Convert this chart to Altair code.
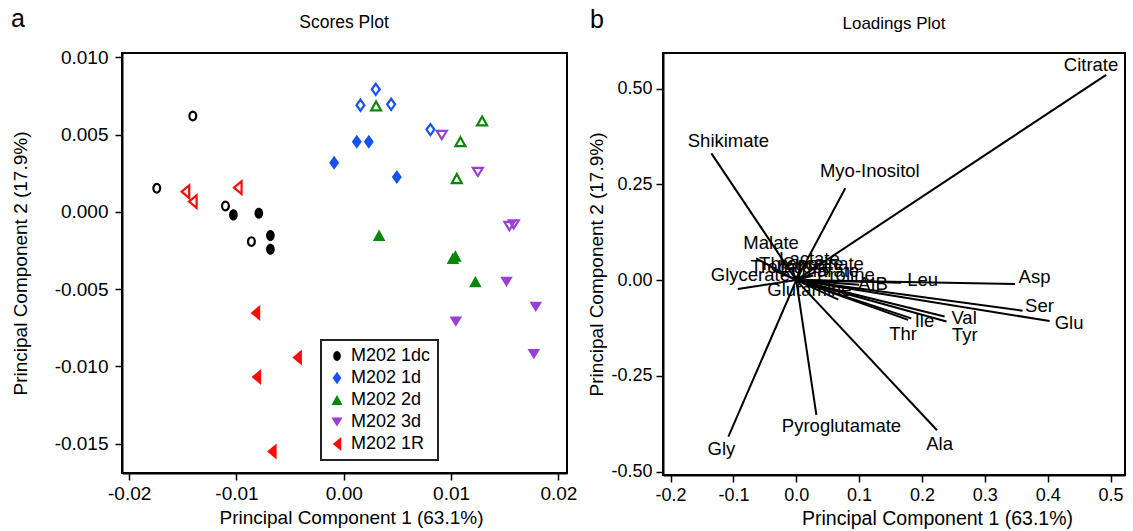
import altair as alt
import pandas as pd

FONT = "Liberation Sans"
MINUS_FIX = "replace(format(datum.value, '{f}'), '\u2212', '-')"

# ---- scores (PC1, PC2) per group; filled = samples, open = paired controls ----
groups = ["M202 1dc", "M202 1d", "M202 2d", "M202 3d", "M202 1R"]
group_colors = ["#000000", "#1652f0", "#0b860b", "#9a3fd5", "#ff0a0a"]

dc_filled_pc1 = [-0.01029, -0.00792, -0.00684, -0.00684]
dc_filled_pc2 = [-0.00019, -0.00008, -0.00153, -0.00241]
dc_open_pc1 = [-0.01407, -0.01743, -0.01103, -0.00861]
dc_open_pc2 = [0.00621, 0.00153, 0.00039, -0.00192]

d1_filled_pc1 = [0.00121, 0.00233, -0.00090, 0.00494]
d1_filled_pc2 = [0.00455, 0.00455, 0.00319, 0.00227]
d1_open_pc1 = [0.00298, 0.00155, 0.00441, 0.00807]
d1_open_pc2 = [0.00794, 0.00691, 0.00697, 0.00533]

d2_filled_pc1 = [0.00329, 0.01017, 0.01040, 0.01226]
d2_filled_pc2 = [-0.00151, -0.00300, -0.00285, -0.00451]
d2_open_pc1 = [0.00301, 0.01289, 0.01087, 0.01053]
d2_open_pc2 = [0.00686, 0.00589, 0.00455, 0.00216]

d3_filled_pc1 = [0.01516, 0.01789, 0.01044, 0.01771]
d3_filled_pc2 = [-0.00453, -0.00615, -0.00710, -0.00921]
d3_open_pc1 = [0.00913, 0.01249, 0.01543, 0.01584]
d3_open_pc2 = [0.00498, 0.00259, -0.00091, -0.00080]

r1_filled_pc1 = [-0.00824, -0.00435, -0.00815, -0.00671]
r1_filled_pc2 = [-0.00654, -0.00943, -0.01068, -0.01551]
r1_open_pc1 = [-0.01476, -0.01407, -0.00988]
r1_open_pc2 = [0.00131, 0.00067, 0.00157]

score_x_ticks = [-0.02, -0.01, 0.0, 0.01, 0.02]
score_y_ticks = [0.010, 0.005, 0.0, -0.005, -0.010, -0.015]

# ---- loadings ----
loading_names = ["Citrate", "Shikimate", "Myo-Inositol", "Malate", "Lactate",
                 "Threonate", "Trehalose", "Succinate", "Fumarate", "Glycerate",
                 "Proline", "AIB", "Glutamine", "Leu", "Asp", "Ser", "Glu",
                 "Val", "Tyr", "Ile", "Thr", "Ala", "Pyroglutamate", "Gly"]
loading_pc1 = [0.493, -0.135, 0.078, -0.064, 0.008, -0.008, -0.037, 0.032, 0.027,
               -0.093, 0.064, 0.100, 0.067, 0.167, 0.348, 0.360, 0.403, 0.236,
               0.239, 0.183, 0.178, 0.224, 0.032, -0.108]
loading_pc2 = [0.536, 0.331, 0.240, 0.057, 0.043, 0.033, 0.027, 0.022, 0.012,
               -0.023, -0.004, -0.012, -0.051, -0.007, -0.010, -0.080, -0.107,
               -0.095, -0.108, -0.100, -0.104, -0.392, -0.352, -0.409]
label_pc1 = [0.469, -0.108, 0.117, -0.040, 0.021, 0.008, -0.008, 0.043, 0.037,
             -0.073, 0.079, 0.122, 0.021, 0.201, 0.379, 0.387, 0.434, 0.267,
             0.268, 0.204, 0.170, 0.228, 0.072, -0.119]
label_pc2 = [0.561, 0.362, 0.284, 0.096, 0.056, 0.043, 0.033, 0.041, 0.025,
             0.012, 0.014, -0.009, -0.025, 0.000, 0.009, -0.067, -0.113,
             -0.100, -0.143, -0.108, -0.142, -0.429, -0.380, -0.440]

loading_x_ticks = [-0.2, -0.1, 0.0, 0.1, 0.2, 0.3, 0.4, 0.5]
loading_y_ticks = [0.50, 0.25, 0.0, -0.25, -0.50]

# marker outlines, drawn on a size-256 grid (units of 8 px)
shape_paths = [
    "M0,-0.69A0.54,0.69 0 1,1 0,0.69A0.54,0.69 0 1,1 0,-0.69Z",
    "M0,-0.875L0.625,0L0,0.875L-0.625,0Z",
    "M0,-0.71L0.79,0.71L-0.79,0.71Z",
    "M-0.79,-0.64L0.79,-0.64L0,0.64Z",
    "M-0.6,0L0.6,-1L0.6,1Z",
]

rows = []
series = [
    (dc_filled_pc1, dc_filled_pc2, dc_open_pc1, dc_open_pc2),
    (d1_filled_pc1, d1_filled_pc2, d1_open_pc1, d1_open_pc2),
    (d2_filled_pc1, d2_filled_pc2, d2_open_pc1, d2_open_pc2),
    (d3_filled_pc1, d3_filled_pc2, d3_open_pc1, d3_open_pc2),
    (r1_filled_pc1, r1_filled_pc2, r1_open_pc1, r1_open_pc2),
]
for g, (fx, fy, ox, oy) in zip(groups, series):
    for a, b in zip(fx, fy):
        rows.append({"group": g, "pc1": a, "pc2": b, "kind": "filled"})
    for a, b in zip(ox, oy):
        rows.append({"group": g, "pc1": a, "pc2": b, "kind": "open"})
scores = pd.DataFrame(rows)

loadings = pd.DataFrame({
    "name": loading_names, "pc1": loading_pc1, "pc2": loading_pc2,
    "lx": label_pc1, "ly": label_pc2,
})

color_scale = alt.Scale(domain=groups, range=group_colors)
shape_scale = alt.Scale(domain=groups, range=shape_paths)


def axis(values, fmt, title, label_size, title_size, label_pad, title_pad, **extra):
    return alt.Axis(values=values, labelExpr=MINUS_FIX.format(f=fmt), title=title,
                    grid=False, domainColor="black", domainWidth=2,
                    tickColor="black", tickWidth=1.5, tickSize=7,
                    labelFont=FONT, labelFontSize=label_size, labelColor="black",
                    labelPadding=label_pad, titleFont=FONT, titleFontSize=title_size,
                    titleFontWeight="normal", titleColor="black",
                    titlePadding=title_pad, **extra)


def panel_text(text, size, dx, dy):
    # panel letter / heading placed relative to the plot area's top-left corner
    return alt.Chart(pd.DataFrame({"t": [text]})).mark_text(
        font=FONT, fontSize=size, align="center", baseline="middle", color="black"
    ).encode(text="t:N", x=alt.value(dx), y=alt.value(dy))


# ---------------- scores panel ----------------
s_xscale = alt.Scale(domain=[-0.02067, 0.0208], nice=False, zero=False)
s_yscale = alt.Scale(domain=[-0.0169, 0.01029], nice=False, zero=False)
s_xaxis = axis(score_x_ticks, ".2f", "Principal Component 1 (63.1%)", 19, 19, 4, 5,
               titleX=229)
s_yaxis = axis(score_y_ticks, ".3f", "Principal Component 2 (17.9%)", 19, 19, 7, 24)
sx = alt.X("pc1:Q", scale=s_xscale, axis=s_xaxis)
sy = alt.Y("pc2:Q", scale=s_yscale, axis=s_yaxis)

filled_pts = alt.Chart(scores).transform_filter("datum.kind == 'filled'").mark_point(
    filled=True, size=256, opacity=1, strokeWidth=0
).encode(
    x=sx, y=sy,
    color=alt.Color("group:N", scale=color_scale, legend=alt.Legend(title=None)),
    shape=alt.Shape("group:N", scale=shape_scale, legend=alt.Legend(title=None)),
)
open_pts = alt.Chart(scores).transform_filter("datum.kind == 'open'").mark_point(
    filled=False, size=160, opacity=1, strokeWidth=2.2
).encode(
    x=sx, y=sy,
    color=alt.Color("group:N", scale=color_scale, legend=None),
    shape=alt.Shape("group:N", scale=shape_scale, legend=None),
)

scores_panel = alt.layer(
    filled_pts, open_pts,
    panel_text("a", 25, -104, -34),
    panel_text("Scores Plot", 17.5, 222, -30),
).resolve_legend(color="independent", shape="independent").properties(
    width=445, height=420,
)

# ---------------- loadings panel ----------------
l_xscale = alt.Scale(domain=[-0.212, 0.523], nice=False, zero=False)
l_yscale = alt.Scale(domain=[-0.509, 0.593], nice=False, zero=False)
l_xaxis = axis(loading_x_ticks, ".1f", "Principal Component 1 (63.1%)", 18, 19.5, 4, 5,
               titleX=274)
l_yaxis = axis(loading_y_ticks, ".2f", "Principal Component 2 (17.9%)", 18, 19, 4, 4)

vectors = alt.Chart(loadings).transform_calculate(origin="0").mark_rule(
    color="black", strokeWidth=2
).encode(x=alt.X("origin:Q", scale=l_xscale, axis=l_xaxis),
         y=alt.Y("origin:Q", scale=l_yscale, axis=l_yaxis),
         x2="pc1:Q", y2="pc2:Q")
names = alt.Chart(loadings).mark_text(
    font=FONT, fontSize=18.5, align="center", baseline="middle", color="black"
).encode(x=alt.X("lx:Q", scale=l_xscale, axis=l_xaxis),
         y=alt.Y("ly:Q", scale=l_yscale, axis=l_yaxis),
         text="name:N")

loadings_panel = alt.layer(
    vectors, names,
    panel_text("b", 25, -66, -33),
    panel_text("Loadings Plot", 17, 231, -29),
).properties(width=462, height=422)

chart = alt.hconcat(scores_panel, loadings_panel, spacing=96, bounds="flush").properties(
    padding={"left": 10, "top": 6, "right": 5, "bottom": 4},
    background="white",
).configure_view(
    stroke="black", strokeWidth=2
).configure_legend(
    orient="none", legendX=199, legendY=287, strokeColor="#222222", strokeWidth=2,
    padding=7, labelFont=FONT, labelFontSize=18, labelColor="black",
    symbolSize=200, symbolStrokeWidth=0, labelOffset=5, rowPadding=4,
    fillColor="white",
)

chart.save("out.html", embed_options={"renderer": "svg", "actions": False})
